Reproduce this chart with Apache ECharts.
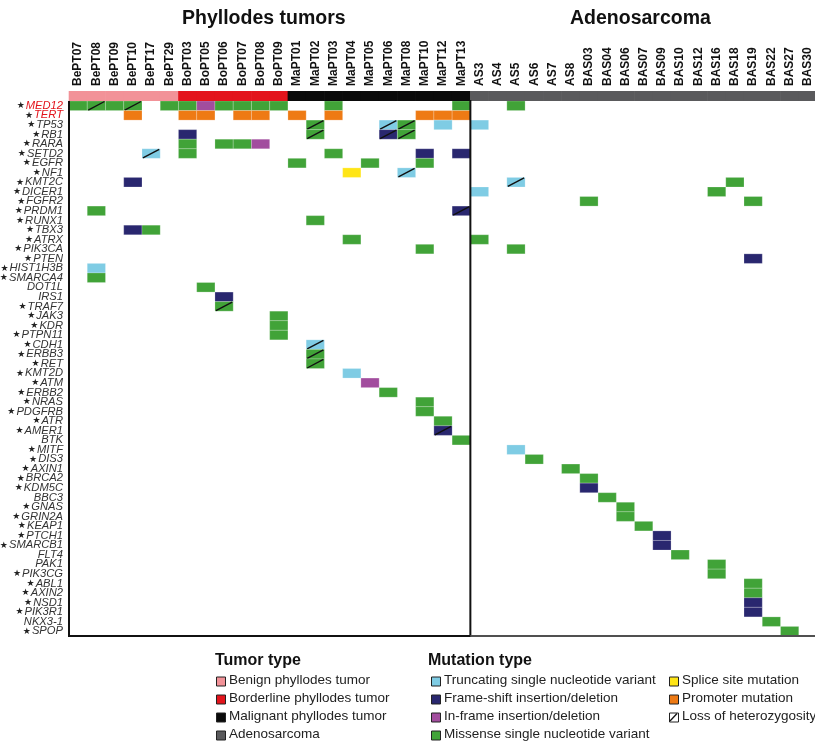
<!DOCTYPE html>
<html><head><meta charset="utf-8">
<script src="https://cdn.jsdelivr.net/npm/echarts@6/dist/echarts.min.js"></script>
<style>html,body{margin:0;padding:0;background:#fff}#c{width:815px;height:743px}</style>
</head><body><div id="c"></div>
<script>
const FONT = 'Liberation Sans, Arial, Helvetica, sans-serif';

const samples = ['BePT07','BePT08','BePT09','BePT10','BePT17','BePT29',
  'BoPT03','BoPT05','BoPT06','BoPT07','BoPT08','BoPT09',
  'MaPT01','MaPT02','MaPT03','MaPT04','MaPT05','MaPT06','MaPT08','MaPT10','MaPT12','MaPT13',
  'AS3','AS4','AS5','AS6','AS7','AS8',
  'BAS03','BAS04','BAS06','BAS07','BAS09','BAS10','BAS12','BAS16','BAS18','BAS19','BAS22','BAS27','BAS30'];
// tumor type index for each sample
const sampleTumorType = [0,0,0,0,0,0, 1,1,1,1,1,1, 2,2,2,2,2,2,2,2,2,2,
  3,3,3,3,3,3, 3,3,3,3,3,3,3,3,3,3,3,3,3];
const tumorTypes = ['Benign phyllodes tumor','Borderline phyllodes tumor','Malignant phyllodes tumor','Adenosarcoma'];
const tumorColors = ['#F29298','#E3141C','#0A0A0A','#5A5A5C'];

const sectionNames = ['Phyllodes tumors','Adenosarcoma'];
const sectionFirst = ['BePT07','AS3'];
const sectionLast = ['MaPT13','BAS30'];

const genes = ['MED12','TERT','TP53','RB1','RARA','SETD2','EGFR','NF1','KMT2C','DICER1','FGFR2','PRDM1','RUNX1','TBX3',
  'ATRX','PIK3CA','PTEN','HIST1H3B','SMARCA4','DOT1L','IRS1','TRAF7','JAK3','KDR','PTPN11','CDH1','ERBB3','RET',
  'KMT2D','ATM','ERBB2','NRAS','PDGFRB','ATR','AMER1','BTK','MITF','DIS3','AXIN1','BRCA2','KDM5C','BBC3','GNAS',
  'GRIN2A','KEAP1','PTCH1','SMARCB1','FLT4','PAK1','PIK3CG','ABL1','AXIN2','NSD1','PIK3R1','NKX3-1','SPOP'];
const unstarredGenes = ['DOT1L','IRS1','BTK','BBC3','FLT4','PAK1','NKX3-1'];
const redGenes = ['MED12','TERT'];

const mutationCodes = ['T','F','I','M','S','P'];
const mutationNames = ['Truncating single nucleotide variant','Frame-shift insertion/deletion','In-frame insertion/deletion',
  'Missense single nucleotide variant','Splice site mutation','Promoter mutation'];
const mutationColors = ['#7FCCE4','#29276F','#A24D9E','#41A338','#FFE516','#EE7A14'];
const lohName = 'Loss of heterozygosity';

// [gene, sample, mutation code, loss of heterozygosity]
const mutations = [
  ['MED12','BePT07','M',0],['MED12','BePT08','M',1],['MED12','BePT09','M',0],['MED12','BePT10','M',1],
  ['MED12','BePT29','M',0],['MED12','BoPT03','M',0],['MED12','BoPT05','I',0],['MED12','BoPT06','M',0],
  ['MED12','BoPT07','M',0],['MED12','BoPT08','M',0],['MED12','BoPT09','M',0],['MED12','MaPT03','M',0],
  ['MED12','MaPT13','M',0],['MED12','AS5','M',0],
  ['TERT','BePT10','P',0],['TERT','BoPT03','P',0],['TERT','BoPT05','P',0],['TERT','BoPT07','P',0],
  ['TERT','BoPT08','P',0],['TERT','MaPT01','P',0],['TERT','MaPT03','P',0],['TERT','MaPT10','P',0],
  ['TERT','MaPT12','P',0],['TERT','MaPT13','P',0],
  ['TP53','MaPT02','M',1],['TP53','MaPT06','T',1],['TP53','MaPT08','M',1],['TP53','MaPT12','T',0],['TP53','AS3','T',0],
  ['RB1','BoPT03','F',0],['RB1','MaPT02','M',1],['RB1','MaPT06','F',1],['RB1','MaPT08','M',1],
  ['RARA','BoPT03','M',0],['RARA','BoPT06','M',0],['RARA','BoPT07','M',0],['RARA','BoPT08','I',0],
  ['SETD2','BePT17','T',1],['SETD2','BoPT03','M',0],['SETD2','MaPT03','M',0],['SETD2','MaPT10','F',0],['SETD2','MaPT13','F',0],
  ['EGFR','MaPT01','M',0],['EGFR','MaPT05','M',0],['EGFR','MaPT10','M',0],
  ['NF1','MaPT04','S',0],['NF1','MaPT08','T',1],
  ['KMT2C','BePT10','F',0],['KMT2C','AS5','T',1],['KMT2C','BAS18','M',0],
  ['DICER1','AS3','T',0],['DICER1','BAS16','M',0],
  ['FGFR2','BAS03','M',0],['FGFR2','BAS19','M',0],
  ['PRDM1','BePT08','M',0],['PRDM1','MaPT13','F',1],
  ['RUNX1','MaPT02','M',0],
  ['TBX3','BePT10','F',0],['TBX3','BePT17','M',0],
  ['ATRX','MaPT04','M',0],['ATRX','AS3','M',0],
  ['PIK3CA','MaPT10','M',0],['PIK3CA','AS5','M',0],
  ['PTEN','BAS19','F',0],
  ['HIST1H3B','BePT08','T',0],['SMARCA4','BePT08','M',0],
  ['DOT1L','BoPT05','M',0],['IRS1','BoPT06','F',0],['TRAF7','BoPT06','M',1],
  ['JAK3','BoPT09','M',0],['KDR','BoPT09','M',0],['PTPN11','BoPT09','M',0],
  ['CDH1','MaPT02','T',1],['ERBB3','MaPT02','M',1],['RET','MaPT02','M',1],
  ['KMT2D','MaPT04','T',0],['ATM','MaPT05','I',0],['ERBB2','MaPT06','M',0],
  ['NRAS','MaPT10','M',0],['PDGFRB','MaPT10','M',0],
  ['ATR','MaPT12','M',0],['AMER1','MaPT12','F',1],['BTK','MaPT13','M',0],
  ['MITF','AS5','T',0],['DIS3','AS6','M',0],['AXIN1','AS8','M',0],
  ['BRCA2','BAS03','M',0],['KDM5C','BAS03','F',0],['BBC3','BAS04','M',0],
  ['GNAS','BAS06','M',0],['GRIN2A','BAS06','M',0],['KEAP1','BAS07','M',0],
  ['PTCH1','BAS09','F',0],['SMARCB1','BAS09','F',0],['FLT4','BAS10','M',0],
  ['PAK1','BAS16','M',0],['PIK3CG','BAS16','M',0],
  ['ABL1','BAS19','M',0],['AXIN2','BAS19','M',0],['NSD1','BAS19','F',0],['PIK3R1','BAS19','F',0],
  ['NKX3-1','BAS22','M',0],['SPOP','BAS27','M',0]
];

// ---------- build ----------
const cellData = mutations.map(m => [samples.indexOf(m[1]), genes.indexOf(m[0]), mutationCodes.indexOf(m[2]), m[3]]);
const barData = samples.map((s, i) => [i, 0, sampleTumorType[i]]);
const sectionData = sectionNames.map((n, i) => [samples.indexOf(sectionFirst[i]), samples.indexOf(sectionLast[i]), i]);

const chart = echarts.init(document.getElementById('c'), null, {renderer: 'canvas'});

function cellRender(params, api) {
  const p = api.coord([api.value(0), api.value(1)]);
  const s = api.size([1, 1]);
  const x = p[0] - s[0] / 2, y = p[1] - s[1] / 2;
  const children = [{
    type: 'rect',
    shape: {x: x, y: y, width: s[0], height: s[1]},
    style: {fill: mutationColors[api.value(2)], stroke: 'rgba(255,255,255,0.35)', lineWidth: 0.6}
  }];
  if (api.value(3)) {
    children.push({
      type: 'line',
      shape: {x1: x + 1, y1: y + s[1] - 0.5, x2: x + s[0] - 1, y2: y + 0.5},
      style: {stroke: '#111', lineWidth: 1.4}
    });
  }
  return {type: 'group', children: children};
}

function barRender(params, api) {
  const p = api.coord([api.value(0), api.value(1)]);
  const s = api.size([1, 1]);
  return {
    type: 'rect',
    shape: {x: p[0] - s[0] / 2 - 0.3, y: p[1] - s[1] / 2, width: s[0] + 0.6, height: s[1]},
    style: {fill: tumorColors[api.value(2)]}
  };
}

function sectionRender(params, api) {
  const a = api.coord([api.value(0), 0]);
  const b = api.coord([api.value(1), genes.length - 1]);
  const s = api.size([1, 1]);
  const x0 = a[0] - s[0] / 2, x1 = b[0] + s[0] / 2, y0 = a[1] - s[1] / 2, y1 = b[1] + s[1] / 2;
  if (api.value(2) === 0) {
    return {type: 'polyline', shape: {points: [[x0, y0], [x0, y1], [x1, y1], [x1, y0 - 1]]},
      style: {stroke: '#111', lineWidth: 2, fill: null}};
  }
  return {type: 'polyline', shape: {points: [[x0, y1], [x1, y1]]},
    style: {stroke: '#505050', lineWidth: 2, fill: null}};
}

// legend (graphic)
const legendChildren = [];
function legendTitle(txt, x, y) {
  legendChildren.push({type: 'text', left: x, top: y,
    style: {text: txt, font: 'bold 16px ' + FONT, fill: '#111'}});
}
function legendItem(txt, color, x, y, loh) {
  legendChildren.push({type: 'rect', left: x, top: y - 4.5,
    shape: {width: 9, height: 9}, style: {fill: color, stroke: '#222', lineWidth: 1}});
  if (loh) {
    legendChildren.push({type: 'line', shape: {x1: x + 1, y1: y + 4, x2: x + 8, y2: y - 3.5},
      style: {stroke: '#111', lineWidth: 1.3}});
  }
  legendChildren.push({type: 'text', left: x + 13, top: y - 8,
    style: {text: txt, font: '13.5px ' + FONT, fill: '#222'}});
}
legendTitle('Tumor type', 215, 653);
tumorTypes.forEach((t, i) => legendItem(t, tumorColors[i], 216, 681 + 18 * i));
legendTitle('Mutation type', 428, 653);
mutationNames.forEach((t, i) => {
  if (i < 4) legendItem(t, mutationColors[i], 431, 681 + 18 * i);
  else legendItem(t, mutationColors[i], 669, 681 + 18 * (i - 4));
});
legendItem(lohName, '#fff', 669, 681 + 18 * 2, true);

const option = {
  backgroundColor: '#fff',
  animation: false,
  title: [
    {text: sectionNames[0], left: 177, top: 4, textStyle: {fontFamily: FONT, fontSize: 19.5, fontWeight: 'bold', color: '#111'}},
    {text: sectionNames[1], left: 565, top: 4, textStyle: {fontFamily: FONT, fontSize: 19.5, fontWeight: 'bold', color: '#111'}}
  ],
  grid: [
    {left: 69, top: 101, width: 748, height: 535, containLabel: false, outerBoundsMode: 'none'},
    {left: 69, top: 91, width: 748, height: 10, containLabel: false, outerBoundsMode: 'none'}
  ],
  xAxis: [
    {type: 'category', gridIndex: 0, data: samples, position: 'top',
      axisLine: {show: false}, axisTick: {show: false}, splitLine: {show: false},
      axisLabel: {interval: 0, rotate: -90, margin: 15, fontFamily: FONT, fontSize: 12, fontWeight: 'bold', color: '#111'}},
    {type: 'category', gridIndex: 1, data: samples, show: false}
  ],
  yAxis: [
    {type: 'category', gridIndex: 0, data: genes, inverse: true,
      axisLine: {show: false}, axisTick: {show: false}, splitLine: {show: false},
      axisLabel: {interval: 0, margin: 6,
        formatter: function (v) {
          const star = unstarredGenes.indexOf(v) < 0 ? '{s|★}' : '';
          const st = redGenes.indexOf(v) >= 0 ? 'r' : 'g';
          return star + '{' + st + '|' + v + '}';
        },
        rich: {
          s: {fontFamily: 'DejaVu Sans', fontSize: 9, color: '#222', padding: [0, 1, 0, 0]},
          g: {fontFamily: FONT, fontSize: 11.2, fontStyle: 'italic', color: '#333'},
          r: {fontFamily: FONT, fontSize: 11.2, fontStyle: 'italic', color: '#E3141C'}
        }}},
    {type: 'category', gridIndex: 1, data: ['type'], show: false}
  ],
  series: [
    {type: 'custom', name: 'mutations', xAxisIndex: 0, yAxisIndex: 0, data: cellData, renderItem: cellRender, z: 2, clip: false},
    {type: 'custom', name: 'sections', xAxisIndex: 0, yAxisIndex: 0, data: sectionData, renderItem: sectionRender, z: 3, clip: false, silent: true},
    {type: 'custom', name: 'tumor type', xAxisIndex: 1, yAxisIndex: 1, data: barData, renderItem: barRender, z: 2, clip: false}
  ],
  graphic: [{type: 'group', children: legendChildren}]
};
chart.setOption(option);
</script></body></html>
